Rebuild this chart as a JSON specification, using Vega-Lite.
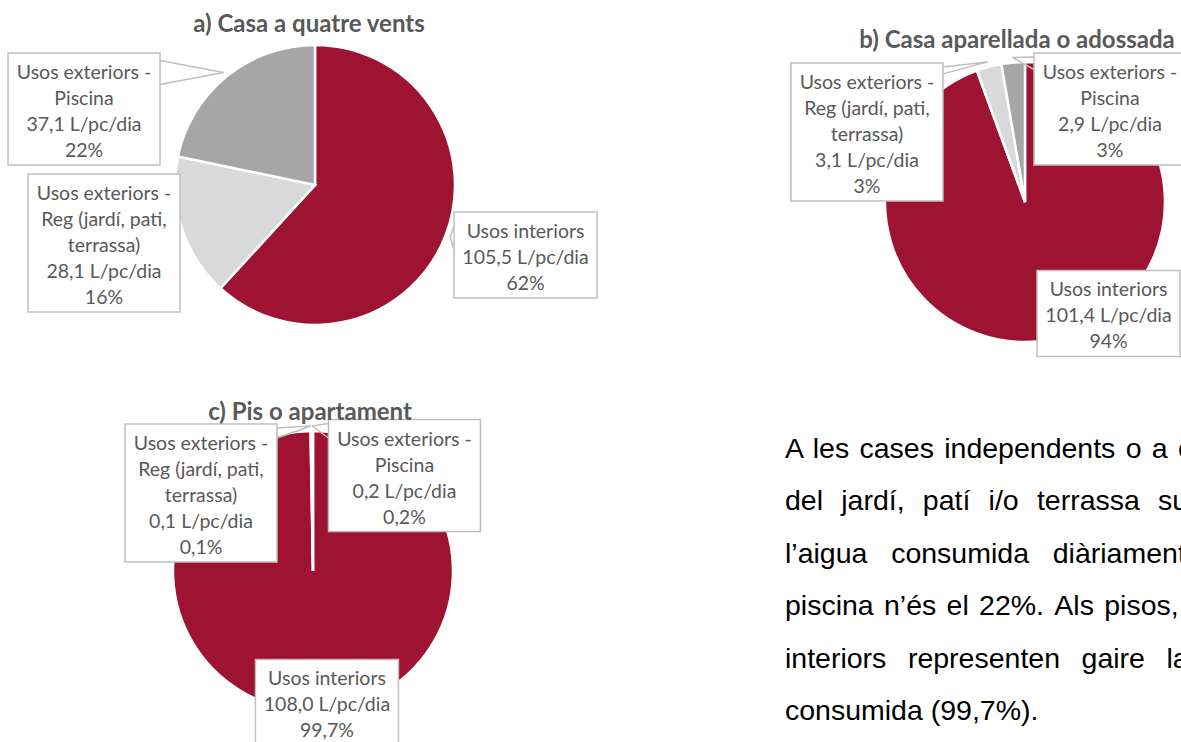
{
  "$schema": "https://vega.github.io/schema/vega-lite/v6.json",
  "padding": 0,
  "background": "white",
  "spacing": 0,
  "config": {"view": {"stroke": null}, "font": "Lato"},
  "datasets": {
    "pies": [
      {"pie": "a", "cat": "Usos interiors", "value": 105.5, "pct": 62},
      {"pie": "a", "cat": "Usos exteriors - Reg (jardí, pati, terrassa)", "value": 28.1, "pct": 16},
      {"pie": "a", "cat": "Usos exteriors - Piscina", "value": 37.1, "pct": 22},
      {"pie": "b", "cat": "Usos interiors", "value": 101.4, "pct": 94},
      {"pie": "b", "cat": "Usos exteriors - Reg (jardí, pati, terrassa)", "value": 3.1, "pct": 3},
      {"pie": "b", "cat": "Usos exteriors - Piscina", "value": 2.9, "pct": 3},
      {"pie": "c", "cat": "Usos interiors", "value": 108.0, "pct": 99.7},
      {"pie": "c", "cat": "Usos exteriors - Reg (jardí, pati, terrassa)", "value": 0.1, "pct": 0.1},
      {"pie": "c", "cat": "Usos exteriors - Piscina", "value": 0.2, "pct": 0.2}
    ],
    "paragraph": [
      {"line": 1, "txt": "A \u200ales \u200acases \u200aindependents \u200ao \u200aa \u200ac"},
      {"line": 2, "txt": "del\u00a0\u00a0\u200ajardí,\u00a0\u00a0\u200apatí\u00a0\u00a0\u200ai/o\u00a0\u00a0\u200aterrassa\u00a0\u00a0\u200asu"},
      {"line": 3, "txt": "l’aigua\u00a0\u00a0\u00a0consumida\u00a0\u00a0\u00a0diàriament"},
      {"line": 4, "txt": "piscina \u200an’és \u200ael \u200a22%. \u200aAls \u200apisos,"},
      {"line": 5, "txt": "interiors\u00a0\u00a0\u2009representen\u00a0\u00a0\u2009gaire\u00a0\u00a0\u2009la"},
      {"line": 6, "txt": "consumida (99,7%)."}
    ]
  },
  "hconcat": [
    {
      "spacing": 0,
      "bounds": "flush",
      "vconcat": [
        {
          "width": 630,
          "height": 380,
          "data": {"name": "pies"},
          "title": {"text": "a) Casa a quatre vents", "fontSize": 24, "fontWeight": "bold", "color": "#595959", "font": "Lato", "baseline": "alphabetic", "offset": -56, "dx": -6, "anchor": "middle", "frame": "group"},
          "transform": [
            {"filter": "datum.pie == 'a'"},
            {"stack": "value", "groupby": ["pie"], "sort": [{"field": "cat", "order": "descending"}], "offset": "normalize", "as": ["t0", "t1"]},
            {"calculate": "(datum.t0 + datum.t1) * PI", "as": "mid"},
            {"calculate": "145 * sin(datum.mid)", "as": "tx"},
            {"calculate": "145 * cos(datum.mid)", "as": "ty"},
            {"calculate": "indexof(datum.cat, 'interiors') >= 0 ? 'i' : (indexof(datum.cat, 'Reg') >= 0 ? 'r' : 'p')", "as": "k"},
            {"calculate": "datum.tx + (datum.k == 'i' ? 75.4 : (datum.k == 'r' ? -73 : -139.5))", "as": "bx"},
            {"calculate": "datum.ty + (datum.k == 'i' ? -17.4 : (datum.k == 'r' ? -13.5 : -36.5))", "as": "by"},
            {"calculate": "split(replace(replace(datum.cat, ' - ', ' -|'), 'pati, ', 'pati,|') + '|' + replace(format(datum.value, '.1f'), '.', ',') + ' L/pc/dia|' + replace(toString(datum.pct), '.', ',') + '%', '|')", "as": "lines"},
            {"calculate": "datum.by + 13 * (length(datum.lines) - 1) - 3", "as": "ly"},
            {"calculate": "datum.k == 'i' ? 71.5 : 76", "as": "hw"},
            {"calculate": "13 * length(datum.lines) + 4", "as": "hh"},
            {"calculate": "datum.bx - datum.hw", "as": "x1"},
            {"calculate": "datum.bx + datum.hw", "as": "x2b"},
            {"calculate": "datum.by - datum.hh", "as": "y1"},
            {"calculate": "datum.by + datum.hh", "as": "y2b"},
            {"calculate": "datum.tx < datum.x1 ? datum.x1 : (datum.tx > datum.x2b ? datum.x2b : datum.tx)", "as": "ex"},
            {"calculate": "clamp(datum.ty + 12, datum.y1 + 4, datum.y2b - 4)", "as": "ey1"},
            {"calculate": "clamp(datum.ty - 12, datum.y1 + 4, datum.y2b - 4)", "as": "ey2"}
          ],
          "layer": [
            {
              "mark": {"type": "arc", "outerRadius": 140, "stroke": "white", "strokeWidth": 2.5},
              "encoding": {
                "x": {"datum": 0, "type": "quantitative", "scale": {"domain": [-315, 315], "nice": false, "zero": false}, "axis": null},
                "y": {"datum": 0, "type": "quantitative", "scale": {"domain": [-195, 185], "nice": false, "zero": false}, "axis": null},
                "theta": {"field": "t0", "type": "quantitative", "stack": null, "scale": {"domain": [0, 1], "range": [0, 6.283185307179586]}},
                "theta2": {"field": "t1"},
                "color": {"field": "cat", "type": "nominal", "scale": {"domain": ["Usos interiors", "Usos exteriors - Reg (jardí, pati, terrassa)", "Usos exteriors - Piscina"], "range": ["#9E1332", "#D9D9D9", "#A6A6A6"]}, "legend": null}
              }
            },
            {
              "mark": {"type": "rule", "stroke": "#BFBFBF", "strokeWidth": 1.5},
              "encoding": {
                "x": {"field": "tx", "type": "quantitative", "scale": {"domain": [-315, 315], "nice": false, "zero": false}, "axis": null},
                "y": {"field": "ty", "type": "quantitative", "scale": {"domain": [-195, 185], "nice": false, "zero": false}, "axis": null},
                "x2": {"field": "ex"},
                "y2": {"field": "ey1"}
              }
            },
            {
              "mark": {"type": "rule", "stroke": "#BFBFBF", "strokeWidth": 1.5},
              "encoding": {
                "x": {"field": "tx", "type": "quantitative", "scale": {"domain": [-315, 315], "nice": false, "zero": false}, "axis": null},
                "y": {"field": "ty", "type": "quantitative", "scale": {"domain": [-195, 185], "nice": false, "zero": false}, "axis": null},
                "x2": {"field": "ex"},
                "y2": {"field": "ey2"}
              }
            },
            {
              "mark": {"type": "rect", "fill": "white", "stroke": "#BFBFBF", "strokeWidth": 1.5, "clip": true},
              "encoding": {
                "x": {"field": "x1", "type": "quantitative", "scale": {"domain": [-315, 315], "nice": false, "zero": false}, "axis": null},
                "x2": {"field": "x2b"},
                "y": {"field": "y1", "type": "quantitative", "scale": {"domain": [-195, 185], "nice": false, "zero": false}, "axis": null},
                "y2": {"field": "y2b"}
              }
            },
            {
              "mark": {"type": "text", "font": "Lato", "fontSize": 19.5, "lineHeight": 26, "color": "#595959", "align": "center", "baseline": "middle", "clip": true},
              "encoding": {
                "x": {"field": "bx", "type": "quantitative", "scale": {"domain": [-315, 315], "nice": false, "zero": false}, "axis": null},
                "y": {"field": "ly", "type": "quantitative", "scale": {"domain": [-195, 185], "nice": false, "zero": false}, "axis": null},
                "text": {"field": "lines"}
              }
            }
          ]
        },
        {
          "width": 630,
          "height": 362,
          "data": {"name": "pies"},
          "title": {"text": "c) Pis o apartament", "fontSize": 24, "fontWeight": "bold", "color": "#595959", "font": "Lato", "baseline": "alphabetic", "offset": -64, "dx": -5, "anchor": "middle", "frame": "group"},
          "transform": [
            {"filter": "datum.pie == 'c'"},
            {"stack": "value", "groupby": ["pie"], "sort": [{"field": "cat", "order": "descending"}], "offset": "normalize", "as": ["t0", "t1"]},
            {"calculate": "(datum.t0 + datum.t1) * PI", "as": "mid"},
            {"calculate": "145 * sin(datum.mid)", "as": "tx"},
            {"calculate": "145 * cos(datum.mid)", "as": "ty"},
            {"calculate": "indexof(datum.cat, 'interiors') >= 0 ? 'i' : (indexof(datum.cat, 'Reg') >= 0 ? 'r' : 'p')", "as": "k"},
            {"calculate": "datum.tx + (datum.k == 'i' ? 12.7 : (datum.k == 'r' ? -109.9 : 92.3))", "as": "bx"},
            {"calculate": "datum.ty + (datum.k == 'i' ? 13.5 : (datum.k == 'r' ? -67 : -49.5))", "as": "by"},
            {"calculate": "split(replace(replace(datum.cat, ' - ', ' -|'), 'pati, ', 'pati,|') + '|' + replace(format(datum.value, '.1f'), '.', ',') + ' L/pc/dia|' + replace(toString(datum.pct), '.', ',') + '%', '|')", "as": "lines"},
            {"calculate": "datum.by + 13 * (length(datum.lines) - 1) - 3", "as": "ly"},
            {"calculate": "datum.k == 'i' ? 71.5 : 76", "as": "hw"},
            {"calculate": "13 * length(datum.lines) + 4", "as": "hh"},
            {"calculate": "datum.bx - datum.hw", "as": "x1"},
            {"calculate": "datum.bx + datum.hw", "as": "x2b"},
            {"calculate": "datum.by - datum.hh", "as": "y1"},
            {"calculate": "datum.by + datum.hh", "as": "y2b"},
            {"calculate": "datum.tx < datum.x1 ? datum.x1 : (datum.tx > datum.x2b ? datum.x2b : datum.tx)", "as": "ex"},
            {"calculate": "clamp(datum.ty + 12, datum.y1 + 4, datum.y2b - 4)", "as": "ey1"},
            {"calculate": "clamp(datum.ty - 12, datum.y1 + 4, datum.y2b - 4)", "as": "ey2"}
          ],
          "layer": [
            {
              "mark": {"type": "arc", "outerRadius": 140, "stroke": "white", "strokeWidth": 2.5},
              "encoding": {
                "x": {"datum": 0, "type": "quantitative", "scale": {"domain": [-313, 317], "nice": false, "zero": false}, "axis": null},
                "y": {"datum": 0, "type": "quantitative", "scale": {"domain": [-171, 191], "nice": false, "zero": false}, "axis": null},
                "theta": {"field": "t0", "type": "quantitative", "stack": null, "scale": {"domain": [0, 1], "range": [0, 6.283185307179586]}},
                "theta2": {"field": "t1"},
                "color": {"field": "cat", "type": "nominal", "scale": {"domain": ["Usos interiors", "Usos exteriors - Reg (jardí, pati, terrassa)", "Usos exteriors - Piscina"], "range": ["#9E1332", "#D9D9D9", "#A6A6A6"]}, "legend": null}
              }
            },
            {
              "mark": {"type": "rule", "stroke": "#BFBFBF", "strokeWidth": 1.5},
              "encoding": {
                "x": {"field": "tx", "type": "quantitative", "scale": {"domain": [-313, 317], "nice": false, "zero": false}, "axis": null},
                "y": {"field": "ty", "type": "quantitative", "scale": {"domain": [-171, 191], "nice": false, "zero": false}, "axis": null},
                "x2": {"field": "ex"},
                "y2": {"field": "ey1"}
              }
            },
            {
              "mark": {"type": "rule", "stroke": "#BFBFBF", "strokeWidth": 1.5},
              "encoding": {
                "x": {"field": "tx", "type": "quantitative", "scale": {"domain": [-313, 317], "nice": false, "zero": false}, "axis": null},
                "y": {"field": "ty", "type": "quantitative", "scale": {"domain": [-171, 191], "nice": false, "zero": false}, "axis": null},
                "x2": {"field": "ex"},
                "y2": {"field": "ey2"}
              }
            },
            {
              "mark": {"type": "rect", "fill": "white", "stroke": "#BFBFBF", "strokeWidth": 1.5, "clip": true},
              "encoding": {
                "x": {"field": "x1", "type": "quantitative", "scale": {"domain": [-313, 317], "nice": false, "zero": false}, "axis": null},
                "x2": {"field": "x2b"},
                "y": {"field": "y1", "type": "quantitative", "scale": {"domain": [-171, 191], "nice": false, "zero": false}, "axis": null},
                "y2": {"field": "y2b"}
              }
            },
            {
              "mark": {"type": "text", "font": "Lato", "fontSize": 19.5, "lineHeight": 26, "color": "#595959", "align": "center", "baseline": "middle", "clip": true},
              "encoding": {
                "x": {"field": "bx", "type": "quantitative", "scale": {"domain": [-313, 317], "nice": false, "zero": false}, "axis": null},
                "y": {"field": "ly", "type": "quantitative", "scale": {"domain": [-171, 191], "nice": false, "zero": false}, "axis": null},
                "text": {"field": "lines"}
              }
            }
          ]
        }
      ]
    },
    {
      "spacing": 0,
      "bounds": "flush",
      "vconcat": [
        {
          "width": 551,
          "height": 380,
          "data": {"name": "pies"},
          "title": {"text": "b) Casa aparellada o adossada", "fontSize": 24, "fontWeight": "bold", "color": "#595959", "font": "Lato", "baseline": "alphabetic", "offset": -72, "dx": 111.5, "anchor": "middle", "frame": "group"},
          "transform": [
            {"filter": "datum.pie == 'b'"},
            {"stack": "value", "groupby": ["pie"], "sort": [{"field": "cat", "order": "descending"}], "offset": "normalize", "as": ["t0", "t1"]},
            {"calculate": "(datum.t0 + datum.t1) * PI", "as": "mid"},
            {"calculate": "145 * sin(datum.mid)", "as": "tx"},
            {"calculate": "145 * cos(datum.mid)", "as": "ty"},
            {"calculate": "indexof(datum.cat, 'interiors') >= 0 ? 'i' : (indexof(datum.cat, 'Reg') >= 0 ? 'r' : 'p')", "as": "k"},
            {"calculate": "datum.tx + (datum.k == 'i' ? 58.2 : (datum.k == 'r' ? -120.7 : 97.3))", "as": "bx"},
            {"calculate": "datum.ty + (datum.k == 'i' ? 31.3 : (datum.k == 'r' ? -70.1 : -51.5))", "as": "by"},
            {"calculate": "split(replace(replace(datum.cat, ' - ', ' -|'), 'pati, ', 'pati,|') + '|' + replace(format(datum.value, '.1f'), '.', ',') + ' L/pc/dia|' + replace(toString(datum.pct), '.', ',') + '%', '|')", "as": "lines"},
            {"calculate": "datum.by + 13 * (length(datum.lines) - 1) - 3", "as": "ly"},
            {"calculate": "datum.k == 'i' ? 71.5 : 76", "as": "hw"},
            {"calculate": "13 * length(datum.lines) + 4", "as": "hh"},
            {"calculate": "datum.bx - datum.hw", "as": "x1"},
            {"calculate": "datum.bx + datum.hw", "as": "x2b"},
            {"calculate": "datum.by - datum.hh", "as": "y1"},
            {"calculate": "datum.by + datum.hh", "as": "y2b"},
            {"calculate": "datum.tx < datum.x1 ? datum.x1 : (datum.tx > datum.x2b ? datum.x2b : datum.tx)", "as": "ex"},
            {"calculate": "clamp(datum.ty + 12, datum.y1 + 4, datum.y2b - 4)", "as": "ey1"},
            {"calculate": "clamp(datum.ty - 12, datum.y1 + 4, datum.y2b - 4)", "as": "ey2"}
          ],
          "layer": [
            {
              "mark": {"type": "arc", "outerRadius": 140, "stroke": "white", "strokeWidth": 2.5},
              "encoding": {
                "x": {"datum": 0, "type": "quantitative", "scale": {"domain": [-395, 156], "nice": false, "zero": false}, "axis": null},
                "y": {"datum": 0, "type": "quantitative", "scale": {"domain": [-178, 202], "nice": false, "zero": false}, "axis": null},
                "theta": {"field": "t0", "type": "quantitative", "stack": null, "scale": {"domain": [0, 1], "range": [0, 6.283185307179586]}},
                "theta2": {"field": "t1"},
                "color": {"field": "cat", "type": "nominal", "scale": {"domain": ["Usos interiors", "Usos exteriors - Reg (jardí, pati, terrassa)", "Usos exteriors - Piscina"], "range": ["#9E1332", "#D9D9D9", "#A6A6A6"]}, "legend": null}
              }
            },
            {
              "mark": {"type": "rule", "stroke": "#BFBFBF", "strokeWidth": 1.5},
              "encoding": {
                "x": {"field": "tx", "type": "quantitative", "scale": {"domain": [-395, 156], "nice": false, "zero": false}, "axis": null},
                "y": {"field": "ty", "type": "quantitative", "scale": {"domain": [-178, 202], "nice": false, "zero": false}, "axis": null},
                "x2": {"field": "ex"},
                "y2": {"field": "ey1"}
              }
            },
            {
              "mark": {"type": "rule", "stroke": "#BFBFBF", "strokeWidth": 1.5},
              "encoding": {
                "x": {"field": "tx", "type": "quantitative", "scale": {"domain": [-395, 156], "nice": false, "zero": false}, "axis": null},
                "y": {"field": "ty", "type": "quantitative", "scale": {"domain": [-178, 202], "nice": false, "zero": false}, "axis": null},
                "x2": {"field": "ex"},
                "y2": {"field": "ey2"}
              }
            },
            {
              "mark": {"type": "rect", "fill": "white", "stroke": "#BFBFBF", "strokeWidth": 1.5, "clip": true},
              "encoding": {
                "x": {"field": "x1", "type": "quantitative", "scale": {"domain": [-395, 156], "nice": false, "zero": false}, "axis": null},
                "x2": {"field": "x2b"},
                "y": {"field": "y1", "type": "quantitative", "scale": {"domain": [-178, 202], "nice": false, "zero": false}, "axis": null},
                "y2": {"field": "y2b"}
              }
            },
            {
              "mark": {"type": "text", "font": "Lato", "fontSize": 19.5, "lineHeight": 26, "color": "#595959", "align": "center", "baseline": "middle", "clip": true},
              "encoding": {
                "x": {"field": "bx", "type": "quantitative", "scale": {"domain": [-395, 156], "nice": false, "zero": false}, "axis": null},
                "y": {"field": "ly", "type": "quantitative", "scale": {"domain": [-178, 202], "nice": false, "zero": false}, "axis": null},
                "text": {"field": "lines"}
              }
            }
          ]
        },
        {
          "width": 551,
          "height": 362,
          "data": {"name": "paragraph"},
          "mark": {"type": "text", "align": "left", "baseline": "alphabetic", "font": "Liberation Sans", "fontSize": 28.5, "color": "#000000", "clip": true},
          "encoding": {
            "x": {"datum": 0, "type": "quantitative", "scale": {"domain": [-155, 396], "nice": false, "zero": false}, "axis": null},
            "y": {"field": "line", "type": "quantitative", "scale": {"domain": [1, 6], "range": [78, 340], "nice": false, "zero": false}, "axis": null},
            "text": {"field": "txt"}
          }
        }
      ]
    }
  ]
}
